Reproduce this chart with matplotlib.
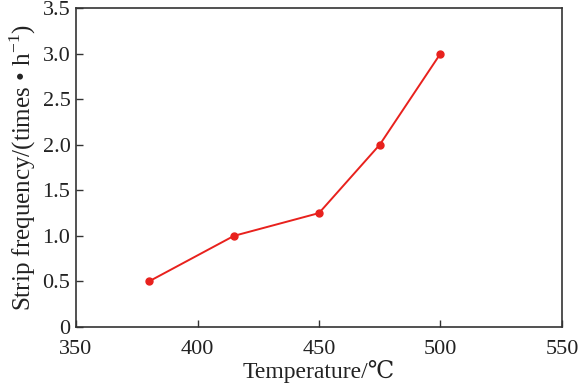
import matplotlib
matplotlib.use("Agg")
import matplotlib.pyplot as plt

plt.rcParams['font.family'] = ['Liberation Serif', 'DejaVu Serif', 'Noto Sans CJK SC']
plt.rcParams['mathtext.fontset'] = 'custom'
plt.rcParams['mathtext.rm'] = 'Liberation Serif'

temperature = [380, 415, 450, 475, 500]
frequency = [0.5, 1.0, 1.25, 2.0, 3.0]
xticks = [350, 400, 450, 500, 550]
yticks = [0, 0.5, 1.0, 1.5, 2.0, 2.5, 3.0, 3.5]
ytick_labels = ['0', '0.5', '1.0', '1.5', '2.0', '2.5', '3.0', '3.5']

fig = plt.figure(figsize=(5.82, 3.92), dpi=100)
ax = fig.add_axes([0.1306, 0.1658, 0.8350, 0.8138])
ax.plot(temperature, frequency, color='#e8211d', linewidth=1.4, marker='o', markersize=5)
ax.set_xlim(350, 550)
ax.set_ylim(0, 3.5)
ax.set_xticks(xticks)
ax.set_yticks(yticks)
ax.set_yticklabels(ytick_labels)
ax.tick_params(direction='in', labelsize=16, length=5, width=1, color='#333333', colors='#222222')
ax.tick_params(axis='x', pad=9)
ax.tick_params(axis='y', pad=4)
for s in ax.spines.values():
    s.set_color('#333333')
    s.set_linewidth(1.2)
ax.set_xlabel('Temperature/℃', fontsize=17, labelpad=1, color='#222222')
ax.set_ylabel('Strip frequency/(times • h$^{-1}$)', fontsize=18, labelpad=3, color='#222222')
fig.savefig('out.png', dpi=100)
